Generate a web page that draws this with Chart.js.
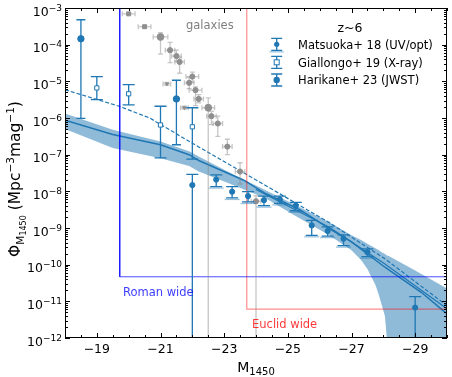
<!DOCTYPE html>
<html>
<head>
<meta charset="utf-8">
<script src="https://cdn.jsdelivr.net/npm/chart.js@4.4.0/dist/chart.umd.min.js"></script>
<style>
  html, body { margin: 0; padding: 0; background: #fff; }
  canvas { display: block; }
</style>
</head>
<body>
<canvas id="lf" width="452" height="377"></canvas>
<script>
/************************ data ************************************************/
// x: M1450 (mag), y values given as log10(Phi) ; null = error bar down to zero
const bandM        = [-18, -19.5, -21, -21.9, -22.2, -23.2, -24.3, -25.3, -26.3, -27, -27.3, -27.5, -27.75, -27.85, -27.95, -28.05, -28.1, -28.2, -29, -30];
const bandUpperLog = [-5.88, -6.32, -6.64, -6.91, -7.05, -7.5, -7.97, -8.4, -8.84, -9.2, -9.33, -9.43, -9.55, -9.6, -9.66, -9.71, -9.74, -9.78, -10.16, -10.65];
const bandLowerLog = [-6.3, -6.82, -7.1, -7.31, -7.46, -7.8, -8.19, -8.7, -9.2, -9.61, -9.87, -10.12, -10.55, -10.8, -11.1, -11.4, -11.9, -14, -14, -14];

const medianM   = [-18, -19.5, -21, -21.9, -22.2, -23.6, -24.3, -25.4, -26.3, -27, -28.05, -29.2, -30];
const medianLog = [-6.06, -6.45, -6.73, -7.0, -7.16, -7.69, -8.06, -8.51, -9.02, -9.38, -10.07, -10.76, -11.34];

const brightM   = [-24.0, -26.3, -28.05, -30];
const brightLog = [-7.95, -8.98, -9.98, -11.2];

const dashedM   = [-18, -19.7, -20.66, -22.2, -23.68, -26.28, -28.05, -30];
const dashedLog = [-5.23, -5.68, -6.0, -6.79, -7.53, -8.84, -9.84, -11.12];

const matsuokaM     = [-22.0, -22.75, -23.25, -23.75, -24.25, -24.75, -25.25, -25.75, -26.25, -26.75, -27.5, -29.0];
const matsuokaLog   = [-7.83, -7.68, -8.01, -8.13, -8.24, -8.22, -8.39, -8.93, -9.08, -9.29, -9.66, -11.17];
const matsuokaHiLog = [-7.54, -7.55, -7.87, -8.01, -8.13, -8.13, -8.3, -8.79, -8.97, -9.19, -9.57, -10.87];
const matsuokaLoLog = [null, -7.87, -8.18, -8.29, -8.39, -8.33, -8.53, -9.2, -9.22, -9.48, -9.78, null];

const giallongoM     = [-19.0, -20.0, -21.0, -22.0];
const giallongoLog   = [-5.18, -5.34, -6.19, -6.24];
const giallongoHiLog = [-4.87, -5.09, -5.68, -5.72];
const giallongoLoLog = [-5.5, -5.64, -7.09, -7.12];

const harikaneM     = [-18.5, -21.5];
const harikaneLog   = [-3.84, -5.48];
const harikaneHiLog = [-3.32, -4.97];
const harikaneLoLog = [-6.01, -6.73];

// galaxy LF points, grouped by sample
const galSqM = [-20.0, -20.5];
const galSqLog = [-3.16, -3.51];
const galSqHiLog = [-3.13, -3.48];
const galSqLoLog = [-3.19, -3.54];
const galSqXErr = [0.2, 0.2];

const galBigM = [-21.0, -22.5];
const galBigLog = [-3.79, -5.72];
const galBigHiLog = [-3.67, -5.45];
const galBigLoLog = [-4.26, null];
const galBigXErr = [0.23, 0.2];

const galSmallM = [-21.2, -21.75];
const galSmallLog = [-5.07, -5.72];
const galSmallHiLog = [-5.03, -5.68];
const galSmallLoLog = [-5.11, -5.76];
const galSmallXErr = [0.12, 0.12];

const galM = [-21.3, -21.5, -21.6, -22.0, -21.9, -22.1, -22.2, -22.6, -22.8, -23.1, -23.5, -24.0];
const galLog = [-4.15, -4.31, -4.47, -4.87, -5.04, -5.24, -5.48, -5.95, -6.15, -6.78, -7.46, -8.27];
const galHiLog = [-3.94, -4.15, -4.35, -4.75, -4.9, -5.15, -5.36, -5.82, -5.95, -6.58, -7.22, -8.12];
const galLoLog = [-4.49, -4.45, -4.78, -5.02, -5.2, -5.66, -5.59, -6.18, -6.5, -7.0, -7.8, null];
const galXErr = [0.15, 0.15, 0.15, 0.2, 0.15, 0.2, 0.15, 0.15, 0.15, 0.15, 0.15, 0.15];

// survey limits (corner of each box)
const romanM = -19.72, romanLog = -10.33;
const euclidM = -23.71, euclidLog = -11.21;

const xTickValues = [-19, -21, -23, -25, -27, -29];
const yDecades = [-12, -11, -10, -9, -8, -7, -6, -5, -4, -3];

/************************ helpers *********************************************/
const FONT = "'DejaVu Sans', sans-serif";
const BLUE = "#1f77b4";
const GREY = "#8f8f8f";
const pow = (v) => Math.pow(10, v);
const toXY = (ms, logs) => ms.map((m, i) => ({ x: m, y: pow(logs[i]) }));
const toVals = (logs) => logs.map((v) => (v === null ? null : pow(v)));

function lineSet(label, ms, logs, extra) {
  return Object.assign({
    label: label, data: toXY(ms, logs), showLine: true, pointRadius: 0,
    borderColor: BLUE, borderWidth: 1.5, tension: 0, fill: false,
  }, extra);
}

function pointSet(label, ms, logs, hi, lo, extra) {
  return Object.assign({
    label: label, data: toXY(ms, logs), errHi: toVals(hi), errLo: toVals(lo),
    showLine: false, pointStyle: "circle", pointRadius: 2.6,
    pointBackgroundColor: BLUE, pointBorderColor: BLUE, pointBorderWidth: 1,
    errColor: BLUE, errWidth: 1.3, capHalf: 6,
  }, extra);
}

function galaxySet(label, ms, logs, hi, lo, xerr, extra) {
  return pointSet(label, ms, logs, hi, lo, Object.assign({
    xErr: xerr, pointRadius: 2.6, pointBackgroundColor: GREY, pointBorderColor: GREY,
    errColor: "rgba(128,128,128,0.45)", errWidth: 1.3, capHalf: 2.5,
  }, extra));
}

/************************ plugins *********************************************/
// draws error bars under each dataset's markers, through the chart scales
const errorBarPlugin = {
  id: "errorBars",
  beforeDatasetDraw(chart, args) {
    const ds = chart.data.datasets[args.index];
    if (!ds.errHi) return;
    const { ctx, chartArea: a, scales: { x, y } } = chart;
    ctx.save();
    ctx.beginPath();
    ctx.rect(a.left, a.top, a.right - a.left, a.bottom - a.top);
    ctx.clip();
    ctx.strokeStyle = ds.errColor;
    ctx.lineWidth = ds.errWidth;
    ds.data.forEach((p, i) => {
      const px = x.getPixelForValue(p.x);
      const py = y.getPixelForValue(p.y);
      const top = y.getPixelForValue(ds.errHi[i]);
      const bot = ds.errLo[i] === null ? a.bottom + 10 : y.getPixelForValue(ds.errLo[i]);
      const c = ds.capHalf;
      ctx.beginPath();
      ctx.moveTo(px, top); ctx.lineTo(px, bot);
      ctx.moveTo(px - c, top); ctx.lineTo(px + c, top);
      ctx.moveTo(px - c, bot); ctx.lineTo(px + c, bot);
      if (ds.xErr) {
        const l = x.getPixelForValue(p.x + ds.xErr[i]);
        const r = x.getPixelForValue(p.x - ds.xErr[i]);
        ctx.moveTo(l, py); ctx.lineTo(r, py);
        ctx.moveTo(l, py - c); ctx.lineTo(l, py + c);
        ctx.moveTo(r, py - c); ctx.lineTo(r, py + c);
      }
      ctx.stroke();
      if (ds.lightCap && ds.errLo[i] !== null) {
        ctx.save();
        ctx.strokeStyle = "rgba(31,119,180,0.45)";
        ctx.beginPath();
        ctx.moveTo(px - c - 1.5, bot + 1.5); ctx.lineTo(px + c + 1.5, bot + 1.5);
        ctx.stroke();
        ctx.restore();
      }
    });
    ctx.restore();
  },
};

function drawRich(ctx, parts, sizes, x0, y0) {
  // parts: [text, sizeKey, baselineShift]
  let w = 0;
  parts.forEach((p) => { ctx.font = sizes[p[1]] + "px " + FONT; w += ctx.measureText(p[0]).width; });
  let cx = x0 - w / 2;
  parts.forEach((p) => {
    ctx.font = sizes[p[1]] + "px " + FONT;
    ctx.fillText(p[0], cx, y0 + p[2]);
    cx += ctx.measureText(p[0]).width;
  });
}

// matplotlib-like frame, inward ticks, labels, annotations and legend
const axesPlugin = {
  id: "mplAxes",
  afterDatasetsDraw(chart) {
    const { ctx, chartArea: a, scales: { x, y } } = chart;
    ctx.save();
    ctx.textBaseline = "alphabetic";

    // annotations
    ctx.font = "11.5px " + FONT;
    ctx.textAlign = "left";
    ctx.fillStyle = "#808080";
    ctx.fillText("galaxies", 186, 29);
    ctx.fillStyle = "rgba(0,0,255,0.78)";
    ctx.fillText("Roman wide", 123, 296);
    ctx.fillStyle = "rgba(255,0,0,0.78)";
    ctx.fillText("Euclid wide", 252, 328);

    // legend
    ctx.fillStyle = "#000";
    ctx.textAlign = "center";
    ctx.font = "12.5px " + FONT;
    ctx.fillText("z~6", 350, 32);
    const rows = [["Matsuoka+ 18 (UV/opt)", 44.3], ["Giallongo+ 19 (X-ray)", 62.3], ["Harikane+ 23 (JWST)", 80]];
    ctx.textAlign = "left";
    ctx.font = "11.5px " + FONT;
    rows.forEach((r, i) => {
      const mx = 276.7, my = r[1];
      ctx.fillStyle = "#000";
      ctx.fillText(r[0], 298, my + 4.3);
      ctx.strokeStyle = BLUE;
      ctx.lineWidth = 1.3;
      ctx.beginPath();
      ctx.moveTo(mx, my - 6); ctx.lineTo(mx, my + 6);
      ctx.moveTo(mx - 5.5, my - 6); ctx.lineTo(mx + 5.5, my - 6);
      ctx.moveTo(mx - 5.5, my + 6); ctx.lineTo(mx + 5.5, my + 6);
      ctx.stroke();
      ctx.fillStyle = BLUE;
      if (i === 0) {
        ctx.strokeStyle = "rgba(31,119,180,0.45)";
        ctx.beginPath(); ctx.moveTo(mx - 7, my + 7.5); ctx.lineTo(mx + 7, my + 7.5); ctx.stroke();
        ctx.beginPath(); ctx.arc(mx, my, 2.6, 0, Math.PI * 2); ctx.fill();
      } else if (i === 1) {
        ctx.fillStyle = "#fff";
        ctx.fillRect(mx - 2.5, my - 2.5, 5, 5);
        ctx.strokeStyle = BLUE; ctx.lineWidth = 1;
        ctx.strokeRect(mx - 2.5, my - 2.5, 5, 5);
      } else {
        ctx.beginPath(); ctx.arc(mx, my, 3.2, 0, Math.PI * 2); ctx.fill();
      }
    });

    // frame
    ctx.strokeStyle = "#000";
    ctx.lineWidth = 1;
    ctx.strokeRect(a.left + 0.5, a.top + 0.5, a.right - a.left - 1, a.bottom - a.top - 1);

    // x ticks (inward, top and bottom)
    ctx.beginPath();
    for (let m = -18; m >= -30; m -= 0.5) {
      const px = Math.round(x.getPixelForValue(m)) + 0.5;
      const len = xTickValues.includes(m) ? 5 : 3;
      ctx.moveTo(px, a.bottom); ctx.lineTo(px, a.bottom - len);
      ctx.moveTo(px, a.top); ctx.lineTo(px, a.top + len);
    }
    // y ticks (inward, left and right)
    yDecades.forEach((d) => {
      for (let k = 1; k <= 9; k++) {
        if (d === -3 && k > 1) break;
        const py = Math.round(y.getPixelForValue(k * pow(d))) + 0.5;
        const len = k === 1 ? 5 : 3;
        ctx.moveTo(a.left, py); ctx.lineTo(a.left + len, py);
        ctx.moveTo(a.right, py); ctx.lineTo(a.right - len, py);
      }
    });
    ctx.stroke();

    // tick labels
    ctx.fillStyle = "#000";
    ctx.textAlign = "center";
    ctx.font = "12.5px " + FONT;
    xTickValues.forEach((m) => {
      ctx.fillText("\u2212" + Math.abs(m), x.getPixelForValue(m), 352.5);
    });
    ctx.textAlign = "left";
    yDecades.forEach((d) => {
      const py = y.getPixelForValue(pow(d));
      const exp = "\u2212" + Math.abs(d);
      ctx.font = "9px " + FONT;
      const we = ctx.measureText(exp).width;
      ctx.font = "12.5px " + FONT;
      const wb = ctx.measureText("10").width;
      const right = 62;
      ctx.fillText("10", right - we - wb, py + 7.5);
      ctx.font = "9px " + FONT;
      ctx.fillText(exp, right - we, py + 2.5);
    });

    // axis titles
    drawRich(ctx, [["M", "main", 0], ["1450", "sub", 3.5]], { main: 14, sub: 10 }, a.left + (a.right - a.left) / 2, 371.5);
    ctx.save();
    ctx.translate(20, (a.top + a.bottom) / 2 + 6);
    ctx.rotate(-Math.PI / 2);
    drawRich(ctx, [
      ["\u03A6", "main", 0], ["M", "sub", 3.5], ["1450", "subsub", 5.5],
      [" (Mpc", "main", 0], ["\u22123", "sup", -6], ["mag", "main", 0], ["\u22121", "sup", -6], [")", "main", 0],
    ], { main: 15.5, sub: 10.5, subsub: 8, sup: 10.5 }, 0, 0);
    ctx.restore();

    ctx.restore();
  },
};

/************************ chart ***********************************************/
const datasets = [
  lineSet("band upper", bandM, bandUpperLog, { borderWidth: 0, order: 14 }),
  lineSet("band lower", bandM, bandLowerLog, { borderWidth: 0, fill: "-1", backgroundColor: "rgba(31,119,180,0.5)", order: 13 }),
  lineSet("dashed", dashedM, dashedLog, { borderWidth: 1.2, borderDash: [4, 2], order: 12 }),
  lineSet("bright fit", brightM, brightLog, { borderWidth: 1.2, order: 11 }),
  lineSet("median", medianM, medianLog, { borderWidth: 1.5, order: 10 }),
  lineSet("Euclid wide", [euclidM, euclidM, -31], [-2, euclidLog, euclidLog], { borderColor: "rgba(255,0,0,0.45)", borderWidth: 1.2, order: 9 }),
  lineSet("Roman wide", [romanM, romanM, -31], [-2, romanLog, romanLog], { borderColor: "rgba(0,0,255,0.7)", borderWidth: 1, order: 8 }),
  galaxySet("galaxies", galM, galLog, galHiLog, galLoLog, galXErr, { order: 7 }),
  galaxySet("galaxies small", galSmallM, galSmallLog, galSmallHiLog, galSmallLoLog, galSmallXErr, { pointRadius: 2, pointStyle: "triangle", rotation: 180, order: 6 }),
  galaxySet("galaxies big", galBigM, galBigLog, galBigHiLog, galBigLoLog, galBigXErr, { pointRadius: 3.4, order: 5 }),
  galaxySet("galaxies sq", galSqM, galSqLog, galSqHiLog, galSqLoLog, galSqXErr, { pointRadius: 2.8, pointStyle: "rect", order: 4 }),
  pointSet("Giallongo+ 19 (X-ray)", giallongoM, giallongoLog, giallongoHiLog, giallongoLoLog, { pointStyle: "rect", pointRadius: 3, pointBackgroundColor: "#fff", pointBorderWidth: 1, order: 3 }),
  pointSet("Matsuoka+ 18 (UV/opt)", matsuokaM, matsuokaLog, matsuokaHiLog, matsuokaLoLog, { lightCap: true, order: 2 }),
  pointSet("Harikane+ 23 (JWST)", harikaneM, harikaneLog, harikaneHiLog, harikaneLoLog, { pointRadius: 3.2, capHalf: 4.5, order: 1 }),
];

const chart = new Chart(document.getElementById("lf"), {
  type: "scatter",
  data: { datasets: datasets },
  options: {
    responsive: false,
    animation: false,
    events: [],
    layout: { padding: { left: 65, top: 8, right: 4, bottom: 39 } },
    plugins: { legend: { display: false }, tooltip: { enabled: false } },
    scales: {
      x: { type: "linear", reverse: true, min: -30, max: -18, display: false },
      y: { type: "logarithmic", min: 1e-12, max: 1e-3, display: false },
    },
  },
  plugins: [errorBarPlugin, axesPlugin],
});
</script>
</body>
</html>
